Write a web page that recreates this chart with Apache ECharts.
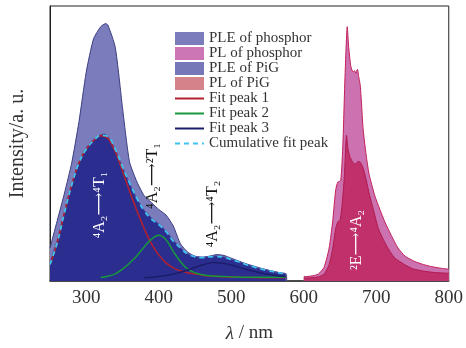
<!DOCTYPE html>
<html>
<head>
<meta charset="utf-8">
<script src="https://cdn.jsdelivr.net/npm/echarts@6/dist/echarts.min.js"></script>
<style>
    html, body {margin: 0; padding: 0; background: #fff;}
    #chart {width: 466px; height: 348px;}
</style>
</head>
<body>
<div id="chart"></div>
<script>
/* Wavelengths (nm) and intensities (a. u.). */
var plePhosphorWl  = [250, 260, 270, 280, 290, 300, 310, 320, 327, 330, 340, 350, 355, 360, 370, 380, 390, 400, 410, 420, 430, 440, 450, 460, 470, 480, 490, 500, 510, 520, 530, 540, 550, 560, 570, 576, 576.5];
var plePhosphorVal = [0.12, 0.22, 0.32, 0.43, 0.58, 0.76, 0.88, 0.925, 0.936, 0.93, 0.85, 0.63, 0.52, 0.43, 0.36, 0.31, 0.285, 0.26, 0.24, 0.2, 0.135, 0.105, 0.09, 0.086, 0.09, 0.096, 0.093, 0.083, 0.073, 0.063, 0.055, 0.047, 0.04, 0.034, 0.028, 0.025, 0];

var plePigWl  = [250, 260, 270, 280, 290, 300, 310, 320, 325, 330, 340, 350, 360, 370, 380, 390, 400, 410, 420, 430, 440, 450, 460, 470, 480, 490, 500, 510, 520, 530, 540, 550, 560, 570, 575, 575.5];
var plePigVal = [0.07, 0.15, 0.255, 0.355, 0.435, 0.485, 0.515, 0.532, 0.535, 0.525, 0.48, 0.415, 0.355, 0.3, 0.258, 0.23, 0.208, 0.183, 0.15, 0.122, 0.1, 0.09, 0.087, 0.09, 0.092, 0.088, 0.08, 0.072, 0.062, 0.054, 0.046, 0.04, 0.034, 0.029, 0.027, 0];

var plPhosphorWl  = [600, 610, 620, 628, 635, 640, 644, 647, 651, 654, 657, 660, 662, 665, 668, 670, 672, 674, 676, 678, 680, 682, 686, 690, 698, 705, 712, 720, 730, 740, 753, 765, 775, 790, 800];
var plPhosphorVal = [0.015, 0.018, 0.025, 0.05, 0.12, 0.22, 0.33, 0.36, 0.365, 0.5, 0.75, 0.925, 0.85, 0.78, 0.76, 0.765, 0.755, 0.77, 0.74, 0.71, 0.63, 0.55, 0.46, 0.39, 0.31, 0.26, 0.214, 0.17, 0.12, 0.09, 0.071, 0.06, 0.053, 0.046, 0.043];

var plPigWl  = [600, 610, 620, 628, 635, 640, 644, 647, 650, 653, 656, 659, 661, 664, 668, 671, 675, 678, 682, 686, 690, 695, 703, 710, 716, 725, 739, 750, 765, 780, 800];
var plPigVal = [0.01, 0.012, 0.015, 0.025, 0.06, 0.12, 0.19, 0.215, 0.22, 0.28, 0.38, 0.53, 0.48, 0.45, 0.43, 0.425, 0.435, 0.432, 0.41, 0.37, 0.32, 0.27, 0.19, 0.15, 0.12, 0.085, 0.06, 0.045, 0.036, 0.031, 0.028];

var fit1Wl  = [250, 260, 270, 280, 290, 300, 310, 320, 330, 340, 350, 360, 370, 380, 390, 400, 410, 420, 430, 440, 450, 460, 470, 480, 490, 500, 520, 540, 560, 575];
var fit1Val = [0.06, 0.14, 0.25, 0.35, 0.43, 0.48, 0.51, 0.528, 0.518, 0.47, 0.4, 0.325, 0.255, 0.19, 0.135, 0.095, 0.066, 0.048, 0.037, 0.03, 0.025, 0.021, 0.018, 0.016, 0.015, 0.014, 0.013, 0.012, 0.012, 0.012];

var fit2Wl  = [320, 330, 340, 350, 360, 370, 380, 390, 400, 410, 420, 430, 440, 450, 460, 470, 480, 500, 520, 550, 575];
var fit2Val = [0.013, 0.017, 0.026, 0.043, 0.066, 0.092, 0.124, 0.152, 0.166, 0.15, 0.108, 0.07, 0.043, 0.03, 0.023, 0.019, 0.017, 0.015, 0.014, 0.014, 0.014];

var fit3Wl  = [380, 400, 420, 440, 460, 475, 490, 500, 520, 540, 560, 575];
var fit3Val = [0.012, 0.016, 0.025, 0.04, 0.058, 0.067, 0.064, 0.058, 0.043, 0.03, 0.02, 0.016];

var cumWl  = [250, 260, 270, 280, 290, 300, 310, 320, 330, 340, 350, 360, 370, 380, 390, 400, 410, 420, 430, 440, 450, 460, 470, 480, 490, 500, 510, 520, 530, 540, 550, 560, 570, 575];
var cumVal = [0.06, 0.14, 0.25, 0.35, 0.43, 0.48, 0.51, 0.53, 0.525, 0.48, 0.415, 0.355, 0.3, 0.255, 0.225, 0.205, 0.18, 0.145, 0.12, 0.098, 0.088, 0.085, 0.088, 0.089, 0.086, 0.078, 0.07, 0.06, 0.052, 0.044, 0.038, 0.033, 0.028, 0.025];

var xLabelValues = [300, 400, 500, 600, 700, 800];
var xTickValues  = [300, 400, 500, 600, 700];

var SERIF = '"Liberation Serif", "DejaVu Serif", serif';

function zip(xs, ys)
{
    return xs.map(function(x, i) {return [x, ys[i]];});
}

function areaSeries(name, xs, ys, fill, edge)
{
    return {
        name: name,
        type: 'line',
        data: zip(xs, ys),
        symbol: 'none',
        smooth: 0.2,
        lineStyle: {color: edge, width: 1},
        itemStyle: {color: fill},
        areaStyle: {color: fill, opacity: 1}
    };
}

function fitSeries(name, xs, ys, color, dashed)
{
    return {
        name: name,
        type: 'line',
        data: zip(xs, ys),
        symbol: 'none',
        smooth: 0.4,
        z: 3,
        lineStyle: {color: color, width: dashed ? 1.8 : 1.5, type: dashed ? [5, 4] : 'solid'},
        itemStyle: {color: color}
    };
}

function label(text, x, y, color)
{
    return {
        type: 'text',
        x: x,
        y: y,
        rotation: Math.PI / 2,
        z: 100,
        style: {text: text, fill: color, font: '16px ' + SERIF, align: 'center', verticalAlign: 'middle'}
    };
}

var chart = echarts.init(document.getElementById('chart'));

/* Line entries in the legend: hide the symbol, keep the line. */
var noSymbol = {opacity: 0};

chart.setOption({
    animation: false,
    grid: {left: 46, right: 16, top: 6, bottom: 61, show: true, borderColor: '#222', borderWidth: 1},
    legend: {
        orient: 'vertical',
        left: 169,
        top: 26,
        itemWidth: 29,
        itemHeight: 13,
        itemGap: 0,
        textStyle: {fontFamily: SERIF, fontSize: 15, color: '#333', lineHeight: 14},
        data: [
            {name: 'PLE of phosphor', icon: 'rect', itemStyle: {color: '#7b7cbc'}},
            {name: 'PL of phosphor',  icon: 'rect', itemStyle: {color: '#cd76b6'}},
            {name: 'PLE of PiG',      icon: 'rect', itemStyle: {color: '#7677b9'}},
            {name: 'PL of PiG',       icon: 'rect', itemStyle: {color: '#d4838a'}},
            {name: 'Fit peak 1', itemStyle: noSymbol},
            {name: 'Fit peak 2', itemStyle: noSymbol},
            {name: 'Fit peak 3', itemStyle: noSymbol},
            {name: 'Cumulative fit peak', itemStyle: noSymbol}
        ]
    },
    xAxis: {
        type: 'value',
        min: 250,
        max: 800,
        name: '{i|λ} / nm',
        nameLocation: 'middle',
        nameGap: 43,
        nameTextStyle: {
            fontFamily: SERIF, fontSize: 19, color: '#333',
            rich: {i: {fontFamily: SERIF, fontSize: 19, fontStyle: 'italic', color: '#333'}}
        },
        axisLine: {lineStyle: {color: '#333', width: 1.5}},
        axisTick: {inside: true, length: 5, customValues: xTickValues, lineStyle: {color: '#333'}},
        axisLabel: {customValues: xLabelValues, fontFamily: SERIF, fontSize: 19, color: '#333', margin: 8},
        splitLine: {show: false}
    },
    yAxis: {
        type: 'value',
        min: 0,
        max: 1,
        name: 'Intensity/a. u.',
        nameLocation: 'middle',
        nameGap: 22,
        nameTextStyle: {fontFamily: SERIF, fontSize: 20, color: '#333'},
        axisLine: {show: true, lineStyle: {color: '#222'}},
        axisTick: {show: false},
        axisLabel: {show: false},
        splitLine: {show: false}
    },
    series: [
        areaSeries('PLE of phosphor', plePhosphorWl, plePhosphorVal, '#7b7cbc', '#3b3d80'),
        areaSeries('PLE of PiG', plePigWl, plePigVal, '#2b2e8f', '#5a5ca8'),
        areaSeries('PL of phosphor', plPhosphorWl, plPhosphorVal, '#cd72b1', '#c21f5a'),
        areaSeries('PL of PiG', plPigWl, plPigVal, '#c0306a', '#b01a4e'),
        fitSeries('Fit peak 1', fit1Wl, fit1Val, '#b3202e', false),
        fitSeries('Fit peak 2', fit2Wl, fit2Val, '#17983c', false),
        fitSeries('Fit peak 3', fit3Wl, fit3Val, '#1b1d6a', false),
        fitSeries('Cumulative fit peak', cumWl, cumVal, '#3fc4f0', true)
    ],
    graphic: [
        label('\u2074A\u2082\u27F6\u2074T\u2081', 100, 205, '#fff'),
        label('\u2074A\u2082\u27F6\u00B2T\u2081', 153, 176, '#111'),
        label('\u2074A\u2082\u27F6\u2074T\u2082', 213, 214, '#111'),
        label('\u00B2E\u27F6\u2074A\u2082', 357, 240, '#fff')
    ]
});
</script>
</body>
</html>
